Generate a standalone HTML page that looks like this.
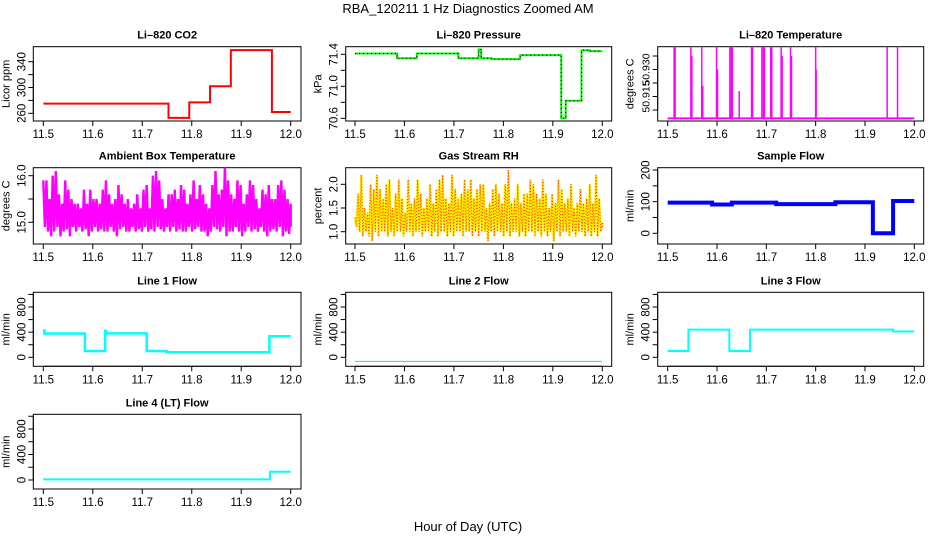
<!DOCTYPE html>
<html><head><meta charset="utf-8"><title>RBA_120211 1 Hz Diagnostics Zoomed AM</title>
<style>
html,body{margin:0;padding:0;background:#fff;}
svg{display:block;font-family:"Liberation Sans",Arial,sans-serif;}
</style></head>
<body>
<svg id="chart" width="936" height="540" viewBox="0 0 936 540" xmlns="http://www.w3.org/2000/svg">
<rect x="0" y="0" width="936" height="540" fill="#fff"/>
<text x="468" y="13" text-anchor="middle" font-size="13">RBA_120211  1 Hz Diagnostics Zoomed AM</text>
<text x="468" y="531" text-anchor="middle" font-size="13">Hour of Day (UTC)</text>
</svg>
<script>
// ---- data ----
const xTicks = [11.5, 11.6, 11.7, 11.8, 11.9, 12.0];
const xTickLabels = ["11.5", "11.6", "11.7", "11.8", "11.9", "12.0"];

const co2Times = [11.5, 11.753, 11.795, 11.837, 11.879, 11.962, 12.0];
const co2Vals = [275, 253, 277, 302, 358, 262];

const presTimes = [11.5, 11.585, 11.625, 11.709, 11.750, 11.755, 11.776, 11.834, 11.917, 11.926, 11.958, 11.975, 12.0];
const presVals = [71.41, 71.35, 71.41, 71.35, 71.46, 71.35, 71.34, 71.39, 70.60, 70.82, 71.45, 71.44];

const tempBase = 50.9119;
const tempSpikeTimes = [11.513, 11.515, 11.547, 11.549, 11.569, 11.571, 11.599, 11.601, 11.626, 11.629, 11.631, 11.645, 11.670, 11.672, 11.691, 11.694, 11.696, 11.709, 11.711, 11.730, 11.732, 11.749, 11.751, 11.800, 11.801, 11.945, 11.966];
const tempSpikeVals = [50.945, 50.945, 50.945, 50.935, 50.945, 50.924, 50.945, 50.930, 50.945, 50.945, 50.945, 50.922, 50.945, 50.945, 50.945, 50.945, 50.945, 50.945, 50.945, 50.945, 50.935, 50.945, 50.935, 50.945, 50.930, 50.945, 50.945];

const ambHi = [15.9,15.9,15.5,16.0,16.1,15.6,15.4,15.9,15.7,15.5,15.4,15.4,15.3,15.7,15.4,15.7,15.5,15.5,15.4,15.7,15.9,15.6,15.4,15.5,15.8,15.6,15.4,15.5,15.3,15.4,15.6,15.3,15.7,15.8,15.3,16.0,16.1,15.9,15.5,15.3,15.6,15.6,15.7,15.5,15.8,15.7,15.4,15.6,15.9,15.5,15.8,15.6,15.4,15.3,15.8,16.1,15.6,15.7,16.2,15.9,15.6,15.5,15.9,15.8,15.4,15.6,15.9,15.8,15.5,15.3,15.7,15.6,15.8,15.5,15.5,15.8,15.9,15.7,15.5,15.4];
const ambLo = [14.9,14.8,14.7,14.8,14.9,14.7,14.8,14.85,14.7,14.9,14.8,14.9,14.8,14.85,14.7,14.8,14.9,14.8,14.85,14.8,14.8,14.9,14.8,14.7,14.85,14.9,14.8,14.8,14.9,14.8,14.85,14.8,14.9,14.8,14.85,14.8,14.9,14.85,14.8,14.9,14.8,14.9,14.8,14.85,14.8,14.8,14.9,14.8,14.85,14.9,14.8,14.8,14.7,14.8,14.9,14.85,14.8,14.9,14.7,14.8,14.8,14.9,14.8,14.7,14.8,14.9,14.8,14.85,14.8,14.9,14.8,14.7,14.8,14.85,14.8,14.9,14.7,14.8,14.75,14.9];

const rhHi = [1.3,1.8,2.2,1.5,1.4,2.0,1.9,2.2,1.9,1.7,2.0,2.1,1.5,1.8,2.1,1.7,1.4,2.1,1.6,1.7,2.1,1.8,1.5,1.7,2.0,1.6,1.9,2.1,2.2,1.7,1.6,2.2,1.9,1.7,1.8,2.1,1.9,2.1,1.7,1.9,2.0,2.0,1.5,1.6,1.9,2.0,1.8,1.6,2.0,2.3,1.6,1.7,2.0,1.6,1.8,1.8,2.1,2.0,1.8,1.7,2.1,1.8,1.5,1.8,1.6,2.1,1.9,1.6,1.7,2.0,1.5,1.6,1.9,1.6,1.7,2.0,1.6,2.2,1.7,1.2];
const rhLo = [1.1,1.0,0.9,1.0,0.9,0.8,1.0,0.9,1.0,1.0,0.9,1.0,0.9,1.0,1.0,0.9,1.0,1.0,0.9,1.0,1.0,0.9,1.0,1.0,0.9,1.0,0.9,1.0,1.0,0.9,1.0,0.9,1.0,1.0,0.9,1.0,1.0,0.9,1.0,0.9,1.0,1.0,0.8,1.0,0.9,1.0,1.0,0.9,1.0,0.9,1.0,1.0,0.9,1.0,0.9,1.0,1.0,0.9,1.0,0.9,1.0,0.9,1.0,0.8,1.0,0.9,1.0,1.0,0.9,1.0,0.9,1.0,1.0,0.9,1.0,0.9,1.0,0.9,1.0,1.1];

const sampTimes = [11.5, 11.59, 11.63, 11.72, 11.84, 11.916, 11.957, 12.0];
const sampVals = [97, 91, 97, 92, 98, 0, 102];

const line1Times = [11.5, 11.502, 11.584, 11.625, 11.627, 11.709, 11.749, 11.957, 12.0];
const line1Vals = [430, 378, 100, 420, 380, 100, 80, 335];

const line2Times = [11.5, 12.0];
const line2Vals = [-64];

const line3Times = [11.5, 11.542, 11.625, 11.667, 11.957, 12.0];
const line3Vals = [100, 440, 100, 440, 410];

const line4Times = [11.5, 11.958, 12.0];
const line4Vals = [10, 130];

// ---- layout ----
const NS = "http://www.w3.org/2000/svg";
const svg = document.getElementById("chart");
const cols = [{l:33.3,r:301,x0:43.3,x1:290.7},{l:345.7,r:611.7,x0:355,x1:602.3},{l:657.7,r:923.7,x0:667.7,x1:914.3}];
const rows = [{t:46.7,b:121},{t:167.7,b:244},{t:292.3,b:366.3},{t:414.3,b:489}];

function mk(tag, attrs, name, parent) {
  const el = document.createElementNS(NS, tag);
  for (const k in attrs) el.setAttribute(k, attrs[k]);
  
  
  (parent || svg).appendChild(el);
  return el;
}

let clipId = 0;
function panel(opts) {
  const c = cols[opts.col], r = rows[opts.row];
  const xs = v => c.x0 + (v - 11.5) / 0.5 * (c.x1 - c.x0);
  const [v1, p1, v2, p2] = opts.cal;
  const ys = v => p1 + (v - v1) * (p2 - p1) / (v2 - v1);
  const g = mk('g', {}, opts.name + '-panel');
  mk('text', {x:(c.l+c.r)/2, y:r.t-8, 'text-anchor':'middle', 'font-size':'11', 'font-weight':'bold'}, opts.name + '-title', g).textContent = opts.title;
  mk('rect', {x:c.l, y:r.t, width:c.r-c.l, height:r.b-r.t, fill:'none', stroke:'#000', 'stroke-width':1}, opts.name + '-plot-box', g);
  mk('line', {x1:xs(xTicks[0]), x2:xs(xTicks[xTicks.length-1]), y1:r.b, y2:r.b, stroke:'#000'}, opts.name + '-x-axis', g);
  xTicks.forEach((t, i) => {
    mk('line', {x1:xs(t), x2:xs(t), y1:r.b, y2:r.b+5, stroke:'#000'}, opts.name + '-x-tick', g);
    mk('text', {x:xs(t), y:r.b+17, 'text-anchor':'middle', 'font-size':'11.5'}, opts.name + '-x-tick-label', g).textContent = xTickLabels[i];
  });
  const yt = opts.yTicks;
  mk('line', {x1:c.l, x2:c.l, y1:ys(yt[0]), y2:ys(yt[yt.length-1]), stroke:'#000'}, opts.name + '-y-axis', g);
  yt.forEach((t, i) => {
    mk('line', {x1:c.l-5, x2:c.l, y1:ys(t), y2:ys(t), stroke:'#000'}, opts.name + '-y-tick', g);
    const lab = opts.yLabels[i];
    if (lab) {
      const tx = c.l - 8, ty = ys(t);
      mk('text', {x:tx, y:ty, 'text-anchor':'middle', 'font-size':opts.tickFont || '11.5', transform:`rotate(-90 ${tx} ${ty})`}, opts.name + '-y-tick-label', g).textContent = lab;
    }
  });
  const lx = c.l - 24, ly = (r.t + r.b) / 2;
  mk('text', {x:lx, y:ly, 'text-anchor':'middle', 'font-size':'11', transform:`rotate(-90 ${lx} ${ly})`}, opts.name + '-y-axis-title', g).textContent = opts.ylab;
  const id = 'clip' + (clipId++);
  const cp = mk('clipPath', {id:id}, opts.name + '-clip', g);
  mk('rect', {x:c.l, y:r.t, width:c.r-c.l, height:r.b-r.t}, opts.name + '-clip-rect', cp);
  const dg = mk('g', {'clip-path':`url(#${id})`}, opts.name + '-series', g);
  return {xs, ys, dg};
}

function stepPath(p, times, vals) {
  let d = `M${p.xs(times[0])},${p.ys(vals[0])}`;
  for (let i = 0; i < vals.length; i++) {
    d += ` L${p.xs(times[i+1])},${p.ys(vals[i])}`;
    if (i + 1 < vals.length) d += ` L${p.xs(times[i+1])},${p.ys(vals[i+1])}`;
  }
  return d;
}
function noisePath(p, hi, lo) {
  const n = hi.length;
  let d = '';
  for (let i = 0; i < n; i++) {
    const t = 11.5 + i * 0.5 / (n - 1);
    const dt = 0.25 / (n - 1);
    d += (i ? ' L' : 'M') + `${p.xs(t)},${p.ys(hi[i])} L${p.xs(Math.min(12, t + dt))},${p.ys(lo[i])}`;
  }
  return d;
}

const lineTicks = [0, 200, 400, 600, 800, 1000];
const lineLabels = ["0", "", "400", "", "800", ""];

let p = panel({name:'co2', col:0, row:0, title:'Li\u2013820 CO2', ylab:'Licor ppm', cal:[260,113.3,340,61.7], yTicks:[260,280,300,320,340], yLabels:['260','','300','','340']});
mk('path', {d:stepPath(p, co2Times, co2Vals), fill:'none', stroke:'#ff0000', 'stroke-width':2}, 'co2-line', p.dg);

p = panel({name:'pressure', col:1, row:0, title:'Li\u2013820 Pressure', ylab:'kPa', cal:[70.6,118.3,71.4,54.3], yTicks:[70.6,70.8,71.0,71.2,71.4], yLabels:['70.6','','71.0','','71.4']});
mk('path', {d:stepPath(p, presTimes, presVals), fill:'none', stroke:'#00ee00', 'stroke-width':2}, 'pressure-line', p.dg);
mk('path', {d:stepPath(p, presTimes, presVals), fill:'none', stroke:'#000', 'stroke-width':1, 'stroke-dasharray':'1,3'}, 'pressure-points', p.dg);

p = panel({name:'temperature', col:2, row:0, title:'Li\u2013820 Temperature', ylab:'degrees C', cal:[50.915,110,50.935,56], yTicks:[50.915,50.92,50.925,50.93,50.935], yLabels:['','50.915','','50.930',''], tickFont:'10.5'});
mk('line', {x1:p.xs(11.5), x2:p.xs(12.0), y1:p.ys(tempBase), y2:p.ys(tempBase), stroke:'#ff00ff', 'stroke-width':2}, 'temperature-baseline', p.dg);
tempSpikeTimes.forEach((t, i) => {
  mk('line', {x1:p.xs(t), x2:p.xs(t), y1:p.ys(tempBase), y2:p.ys(tempSpikeVals[i]), stroke:'#ff00ff', 'stroke-width':1.5}, 'temperature-spike', p.dg);
});

p = panel({name:'ambient', col:0, row:1, title:'Ambient Box Temperature', ylab:'degrees C', cal:[15,222.3,16,175.7], yTicks:[15,15.5,16], yLabels:['15.0','','16.0']});
mk('path', {d:noisePath(p, ambHi, ambLo), fill:'none', stroke:'#ff00ff', 'stroke-width':2.4}, 'ambient-line', p.dg);

p = panel({name:'rh', col:1, row:1, title:'Gas Stream RH', ylab:'percent', cal:[1,231.7,2,184.3], yTicks:[1,1.5,2], yLabels:['1.0','1.5','2.0']});
mk('path', {d:noisePath(p, rhHi, rhLo), fill:'none', stroke:'#ffee00', 'stroke-width':2.2}, 'rh-line', p.dg);
mk('path', {d:noisePath(p, rhHi, rhLo), fill:'none', stroke:'#ff3300', 'stroke-width':1, 'stroke-dasharray':'1,2'}, 'rh-points', p.dg);

p = panel({name:'sample-flow', col:2, row:1, title:'Sample Flow', ylab:'ml/min', cal:[0,233.3,200,170], yTicks:[0,50,100,150,200], yLabels:['0','','100','','200']});
mk('path', {d:stepPath(p, sampTimes, sampVals), fill:'none', stroke:'#0000ff', 'stroke-width':4}, 'sample-flow-line', p.dg);

p = panel({name:'line1-flow', col:0, row:2, title:'Line 1 Flow', ylab:'ml/min', cal:[0,357.3,800,307], yTicks:lineTicks, yLabels:lineLabels});
mk('path', {d:stepPath(p, line1Times, line1Vals), fill:'none', stroke:'#00ffff', 'stroke-width':2.5}, 'line1-flow-line', p.dg);

p = panel({name:'line2-flow', col:1, row:2, title:'Line 2 Flow', ylab:'ml/min', cal:[0,357.3,800,307], yTicks:lineTicks, yLabels:lineLabels});
mk('path', {d:stepPath(p, line2Times, line2Vals), fill:'none', stroke:'#00e5ee', 'stroke-width':1}, 'line2-flow-line', p.dg);

p = panel({name:'line3-flow', col:2, row:2, title:'Line 3 Flow', ylab:'ml/min', cal:[0,357.3,800,307], yTicks:lineTicks, yLabels:lineLabels});
mk('path', {d:stepPath(p, line3Times, line3Vals), fill:'none', stroke:'#00ffff', 'stroke-width':2}, 'line3-flow-line', p.dg);

p = panel({name:'line4-flow', col:0, row:3, title:'Line 4 (LT) Flow', ylab:'ml/min', cal:[0,480,800,429], yTicks:lineTicks, yLabels:lineLabels});
mk('path', {d:stepPath(p, line4Times, line4Vals), fill:'none', stroke:'#00ffff', 'stroke-width':2}, 'line4-flow-line', p.dg);
</script>
</body></html>
